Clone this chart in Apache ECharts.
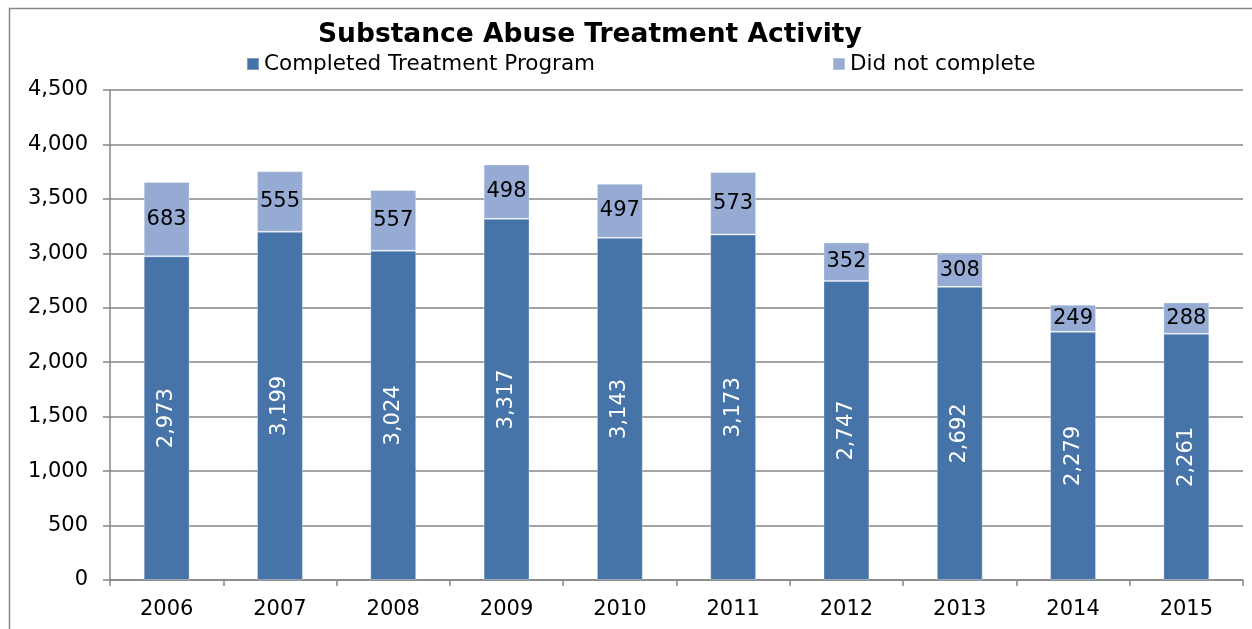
<!DOCTYPE html>
<html>
<head>
<meta charset="utf-8">
<script src="https://cdn.jsdelivr.net/npm/echarts@6/dist/echarts.min.js"></script>
<style>
html,body{margin:0;padding:0;background:#fff;}
#c{width:1252px;height:629px;}
</style>
</head>
<body>
<div id="c"></div>
<script>
const years = ['2006','2007','2008','2009','2010','2011','2012','2013','2014','2015'];
const completed = [2973,3199,3024,3317,3143,3173,2747,2692,2279,2261];
const notCompleted = [683,555,557,498,497,573,352,308,249,288];
const yTicks = [0,500,1000,1500,2000,2500,3000,3500,4000,4500];

function fmt(v){ return String(v).replace(/\B(?=(\d{3})+(?!\d))/g, ','); }
const FONT = 'DejaVu Sans';
const chart = echarts.init(document.getElementById('c'));
chart.setOption({
  animation:false,
  backgroundColor:'#fff',
  textStyle:{fontFamily:FONT},
  graphic:[{type:'rect',left:7,top:6,shape:{width:1300,height:700},style:{fill:'none',stroke:'#868686',lineWidth:1.5},silent:true}],
  title:{text:'Substance Abuse Treatment Activity',left:313,top:17,
    textStyle:{fontFamily:FONT,fontWeight:'bold',fontSize:26.5,color:'#000'}},
  legend:[
    {data:['Completed Treatment Program'],left:241,top:48,itemWidth:12,itemHeight:12,
      textStyle:{fontFamily:FONT,fontSize:21.5,color:'#000'},icon:'rect'},
    {data:['Did not complete'],left:827,top:48,itemWidth:12,itemHeight:12,
      textStyle:{fontFamily:FONT,fontSize:21.5,color:'#000'},icon:'rect'}
  ],
  grid:{left:110,right:9,top:90,bottom:49,containLabel:false},
  xAxis:{type:'category',data:years,
    axisLine:{lineStyle:{color:'#868686',width:1.5}},
    axisTick:{show:true,length:6,alignWithLabel:false,lineStyle:{color:'#868686',width:1.5}},
    axisLabel:{fontFamily:FONT,fontSize:21,color:'#000',margin:19}},
  yAxis:{type:'value',min:0,max:4500,interval:500,
    axisLine:{show:true,lineStyle:{color:'#868686',width:1.5}},
    axisTick:{show:true,length:7,lineStyle:{color:'#868686',width:1.5}},
    splitLine:{lineStyle:{color:'#868686',width:1.5}},
    axisLabel:{fontFamily:FONT,fontSize:21,color:'#000',margin:22,formatter:v=>fmt(v)}},
  series:[
    {name:'Completed Treatment Program',type:'bar',stack:'a',data:completed,barWidth:'40.5%',
      itemStyle:{color:'#4674A8',borderColor:'rgba(255,255,255,0.3)',borderWidth:1},
      label:{show:true,position:'inside',rotate:90,color:'#fff',fontFamily:FONT,fontSize:21,formatter:p=>fmt(p.value)}},
    {name:'Did not complete',type:'bar',stack:'a',data:notCompleted,barWidth:'40.5%',
      itemStyle:{color:'#95ABD3',borderColor:'rgba(255,255,255,0.3)',borderWidth:1},
      label:{show:true,position:'inside',color:'#000',fontFamily:FONT,fontSize:21,formatter:p=>fmt(p.value)}}
  ]
});
</script>
</body>
</html>
